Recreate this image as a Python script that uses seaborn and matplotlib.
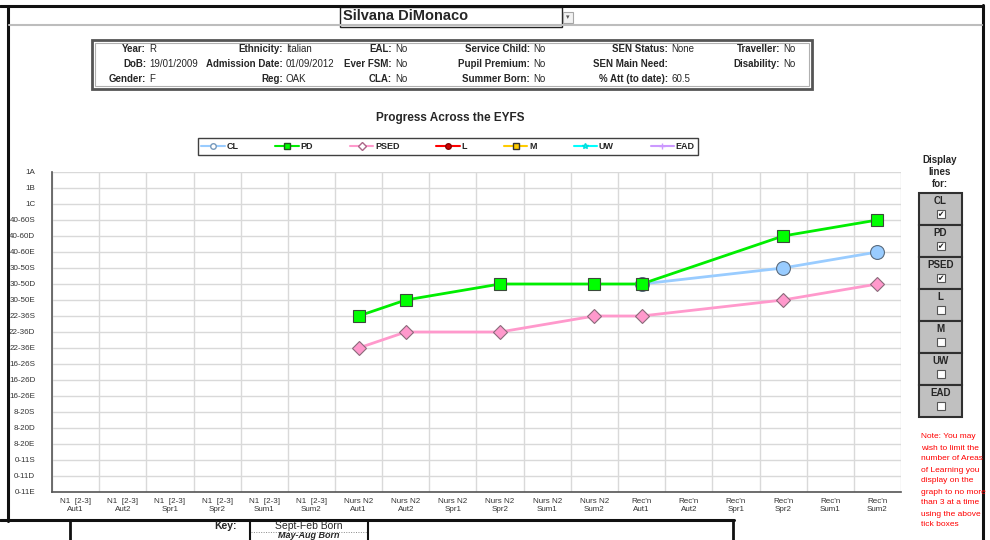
import matplotlib

matplotlib.use("Agg")

import matplotlib.pyplot as plt
import matplotlib.transforms as mtransforms
import numpy as np
import pandas as pd
import seaborn as sns
from matplotlib import font_manager
from matplotlib.lines import Line2D
from matplotlib.patches import Rectangle


# ---- data -------------------------------------------------------------
terms = [
    "N1  [2-3]\nAut1", "N1  [2-3]\nAut2", "N1  [2-3]\nSpr1", "N1  [2-3]\nSpr2",
    "N1  [2-3]\nSum1", "N1  [2-3]\nSum2", "Nurs N2\nAut1", "Nurs N2\nAut2",
    "Nurs N2\nSpr1", "Nurs N2\nSpr2", "Nurs N2\nSum1", "Nurs N2\nSum2",
    "Rec'n\nAut1", "Rec'n\nAut2", "Rec'n\nSpr1", "Rec'n\nSpr2",
    "Rec'n\nSum1", "Rec'n\nSum2",
]
levels = [
    "0-11E", "0-11D", "0-11S", "8-20E", "8-20D", "8-20S",
    "16-26E", "16-26D", "16-26S", "22-36E", "22-36D", "22-36S",
    "30-50E", "30-50D", "30-50S", "40-60E", "40-60D", "40-60S",
    "1C", "1B", "1A",
]
# scores are indexes into levels, None = not assessed
cl_scores = [None, None, None, None, None, None, None, None, None,
             None, None, None, 13, None, None, 14, None, 15]
pd_scores = [None, None, None, None, None, None, 11, 12, None,
             13, None, 13, 13, None, None, 16, None, 17]
psed_scores = [None, None, None, None, None, None, 9, 10, None,
               10, None, 11, 11, None, None, 12, None, 13]

areas = ["CL", "PD", "PSED", "L", "M", "UW", "EAD"]
shown = [True, True, True, False, False, False, False]

pupil_info = [
    # (label right edge px, row, label, value)
    (146, 0, "Year:", "R"), (146, 1, "DoB:", "19/01/2009"), (146, 2, "Gender:", "F"),
    (283, 0, "Ethnicity:", "Italian"), (283, 1, "Admission Date:", "01/09/2012"),
    (283, 2, "Reg:", "OAK"),
    (392, 0, "EAL:", "No"), (392, 1, "Ever FSM:", "No"), (392, 2, "CLA:", "No"),
    (530, 0, "Service Child:", "No"), (530, 1, "Pupil Premium:", "No"),
    (530, 2, "Summer Born:", "No"),
    (668, 0, "SEN Status:", "None"), (668, 1, "SEN Main Need:", ""),
    (668, 2, "% Att (to date):", "60.5"),
    (780, 0, "Traveller:", "No"), (780, 1, "Disability:", "No"),
]

note_lines = [
    "Note: You may", "wish to limit the", "number of Areas", "of Learning you",
    "display on the", "graph to no more", "than 3 at a time", "using the above",
    "tick boxes",
]

# ---- style ------------------------------------------------------------
sns.set_style("white")
plt.rcParams["font.family"] = ["Liberation Sans", "DejaVu Sans"]
try:
    font_manager.findfont("Liberation Sans Narrow", fallback_to_default=False)
    NARROW = "Liberation Sans Narrow"
except ValueError:
    NARROW = "Liberation Sans"

W, H = 990, 540
fig = plt.figure(figsize=(W / 100, H / 100), dpi=100)
# pixel coordinates, origin at top-left
px = mtransforms.Affine2D().scale(1 / W, -1 / H).translate(0, 1) + fig.transFigure


def hline(x0, x1, y, **kw):
    fig.add_artist(Line2D([x0, x1], [y, y], transform=px, **kw))


def vline(x, y0, y1, **kw):
    fig.add_artist(Line2D([x, x], [y0, y1], transform=px, **kw))


def box(x0, y0, x1, y1, **kw):
    fig.add_artist(Rectangle((x0, y1), x1 - x0, y0 - y1, transform=px, **kw))


def label(x, y, s, **kw):
    fig.text(x, y, s, transform=px, **kw)


# ---- chart ------------------------------------------------------------
ax = fig.add_axes([52 / W, 1 - 492 / H, (901 - 52) / W, (492 - 172) / H])

df = pd.DataFrame({"pos": np.arange(len(terms)), "CL": cl_scores,
                   "PD": pd_scores, "PSED": psed_scores})
df[["CL", "PD", "PSED"]] = df[["CL", "PD", "PSED"]].astype(float)

series_style = {
    "CL": dict(color="#99ccff", marker="o", markersize=10, markerfacecolor="#99ccff",
               markeredgecolor="#5a6b7d"),
    "PD": dict(color="#00ee00", marker="s", markersize=8.5, markerfacecolor="#00ff00",
               markeredgecolor="#3a4a3a"),
    "PSED": dict(color="#ff99cc", marker="D", markersize=7, markerfacecolor="#ff99cc",
                 markeredgecolor="#8a6a7a"),
}
for name, style in series_style.items():
    sub = df.dropna(subset=[name])
    sns.lineplot(x=sub["pos"], y=sub[name], ax=ax, linewidth=2, markeredgewidth=0.8,
                 errorbar=None, sort=True, legend=False, **style)

ax.set_xlim(-0.5, len(terms) - 0.5)
ax.set_ylim(0, len(levels) - 1)
ax.set_xticks(np.arange(-0.5, len(terms), 1))
ax.set_xticklabels([])
ax.set_xticks(np.arange(len(terms)), minor=True)
ax.set_xticklabels(terms, minor=True, fontsize=5.8, color="#333333", linespacing=1.3)
ax.tick_params(axis="x", which="minor", length=0, pad=4)
ax.tick_params(axis="x", which="major", length=4, width=0.8, color="#555555", direction="out")
ax.set_yticks(np.arange(len(levels)))
ax.set_yticklabels(levels, fontsize=5.8, color="#333333")
ax.tick_params(axis="y", length=4, width=0.8, color="#555555", direction="out", pad=8)
ax.grid(True, which="major", color="#d9d9d9", linewidth=1)
ax.set_axisbelow(True)
for side in ("top", "right"):
    ax.spines[side].set_visible(False)
for side in ("left", "bottom"):
    ax.spines[side].set_color("#555555")
    ax.spines[side].set_linewidth(1.2)
ax.set_xlabel("")
ax.set_ylabel("")

# legend with all seven areas
legend_style = [
    ("#99ccff", "o", "white", "#7799bb"),
    ("#00ee00", "s", "#00ff00", "#225522"),
    ("#ff99cc", "D", "white", "#aa6688"),
    ("#ff0000", "o", "#cc0000", "#880000"),
    ("#ffcc00", "s", "#ffcc00", "#333333"),
    ("#00ffff", "*", "#00ffff", "#00dddd"),
    ("#cc99ff", "+", "#cc99ff", "#cc99ff"),
]
handles = [Line2D([], [], color=c, marker=m, markersize=4, markerfacecolor=f,
                  markeredgecolor=e, linewidth=1.5) for c, m, f, e in legend_style]
fig.legend(handles, areas, loc="center", ncol=7, mode="expand",
           bbox_to_anchor=(193 / W, 1 - 155 / H, 510 / W, 17 / H),
           frameon=True, fancybox=False, edgecolor="#404040", framealpha=1,
           prop={"size": 6.5, "weight": "bold"}, handlelength=2.6,
           handletextpad=0.2, borderpad=0.4, columnspacing=1.0)

label(450, 118, "Progress Across the EYFS", ha="center", va="center",
      fontsize=8.5, fontweight="bold")

# ---- sheet furniture --------------------------------------------------
hline(0, 983, 6, color="#111111", linewidth=2.2)
vline(8, 6, 521, color="#111111", linewidth=2.2)
vline(983, 5, 540, color="#111111", linewidth=2.2)
hline(0, 734, 520, color="#111111", linewidth=2.2)
hline(9, 982, 25, color="#bdbdbd", linewidth=1.5)

box(340, 7, 562, 27, facecolor="white", edgecolor="#222222", linewidth=1)
label(343, 16.5, "Silvana DiMonaco", ha="left", va="center", fontsize=10.5,
      fontweight="bold")
box(563, 12, 573, 23, facecolor="#f2f2f2", edgecolor="#a6a6a6", linewidth=0.8)
label(568, 17.5, "\u25be", ha="center", va="center", fontsize=5, color="#555555",
      family="DejaVu Sans")

box(92, 40, 812, 89, facecolor="white", edgecolor="#555555", linewidth=2)
box(95, 43, 809, 86, facecolor="none", edgecolor="#b0b0b0", linewidth=0.8)
row_y = [49, 64, 79]
for x, row, lab, val in pupil_info:
    label(x, row_y[row], lab, ha="right", va="center", fontsize=7,
          fontweight="bold", family=NARROW)
    if val:
        label(x + 3, row_y[row], val, ha="left", va="center", fontsize=7,
              family=NARROW)

# display toggles
for i, word in enumerate(["Display", "lines", "for:"]):
    label(940, 160 + 12 * i, word, ha="center", va="center", fontsize=7,
          fontweight="bold")
cell_h = 32
for i, (area, on) in enumerate(zip(areas, shown)):
    top = 193 + cell_h * i
    box(919, top, 962, top + cell_h, facecolor="#c0c0c0", edgecolor="#303030",
        linewidth=1.5)
    label(940.5, top + 8.5, area, ha="center", va="center", fontsize=7,
          fontweight="bold")
    box(936.5, top + 17, 944.5, top + 25, facecolor="white", edgecolor="#555555",
        linewidth=0.8)
    if on:
        label(940.5, top + 21, "\u2714", ha="center", va="center", fontsize=5.5,
              color="#222222", family="DejaVu Sans")

for i, line in enumerate(note_lines):
    label(921, 437 + 11 * i, line, ha="left", va="center", fontsize=6,
          color="#ff0000")

# key strip along the bottom
vline(70, 520, 540, color="#111111", linewidth=2)
vline(733, 520, 540, color="#111111", linewidth=2)
label(237, 526, "Key:", ha="right", va="center", fontsize=7.5, fontweight="bold")
vline(250, 520, 540, color="#111111", linewidth=1.5)
vline(368, 520, 540, color="#111111", linewidth=1.5)
label(309, 526, "Sept-Feb Born", ha="center", va="center", fontsize=7.5,
      family=NARROW)
hline(251, 367, 531.5, color="#888888", linewidth=0.7, linestyle=(0, (1, 1.5)))
label(309, 535.5, "May-Aug Born", ha="center", va="center", fontsize=6.5,
      fontweight="bold", style="italic", family=NARROW)

fig.savefig("out.png", dpi=100)
